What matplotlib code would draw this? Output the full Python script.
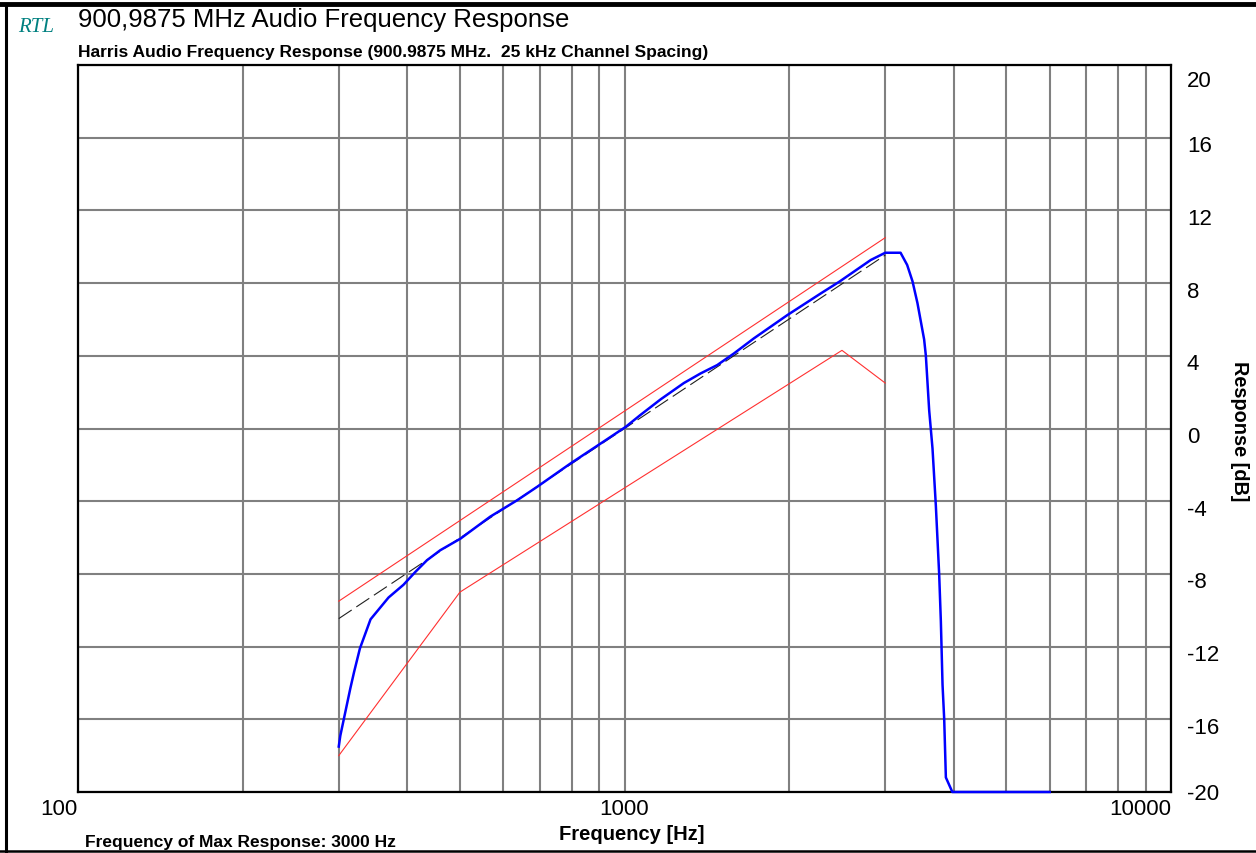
import matplotlib
matplotlib.use("Agg")
import matplotlib.pyplot as plt
from matplotlib import transforms
from matplotlib.lines import Line2D

# measured audio response (Hz, dB)
freq_hz = [300, 302, 315, 320, 328, 343, 370, 394, 414, 435, 460, 501, 568, 636,
           692, 796, 904, 1005, 1070, 1164, 1284, 1378, 1478, 1586, 1725, 1851,
           1986, 2286, 2473, 2822, 3000, 3200, 3290, 3365, 3436, 3534, 3560, 3610,
           3661, 3713, 3765, 3792, 3819, 3846, 3873, 3980, 6000]
response_db = [-17.5, -16.9, -14.3, -13.4, -12.1, -10.5, -9.3, -8.6, -7.9, -7.25,
               -6.7, -6.06, -4.85, -3.95, -3.21, -1.93, -0.83, 0.09, 0.75, 1.6,
               2.5, 3.03, 3.49, 4.13, 4.96, 5.6, 6.24, 7.43, 8.08, 9.27, 9.67,
               9.67, 9.0, 8.1, 6.9, 4.9, 4.0, 1.0, -1.1, -4.25, -8.0, -10.6, -14.1,
               -16.0, -19.2, -20.0, -20.0]

# limit lines and ideal 6 dB/octave pre-emphasis
upper_hz = [300, 3000]
upper_db = [-9.5, 10.5]
lower_hz = [300, 500, 2500, 3000]
lower_db = [-18.0, -9.0, 4.3, 2.5]
ideal_hz = [300, 3000]
ideal_db = [-10.46, 9.54]

y_ticks = [20, 16, 12, 8, 4, 0, -4, -8, -12, -16, -20]
x_major = [100, 1000, 10000]
x_minor = [200, 300, 400, 500, 600, 700, 800, 900,
           2000, 3000, 4000, 5000, 6000, 7000, 8000, 9000]

W, H = 1256, 854
fig = plt.figure(figsize=(W / 100, H / 100), dpi=100)
ax = fig.add_axes([78 / W, 1 - 793 / H, (1171 - 78) / W, (793 - 66) / H])

ax.set_xscale("log")
ax.set_xlim(100, 10000)
ax.set_ylim(-20, 20)
ax.set_xticks(x_major)
ax.set_xticks(x_minor, minor=True)
ax.set_yticks(y_ticks)
ax.tick_params(which="both", length=0, labelbottom=False, labelleft=False)
ax.grid(which="both", color="#808080", linewidth=1.5)
ax.set_axisbelow(True)
for s in ax.spines.values():
    s.set_linewidth(1.6)
    s.set_color("black")

ax.plot(upper_hz, upper_db, color="#ff3030", linewidth=0.8)
ax.plot(lower_hz, lower_db, color="#ff3030", linewidth=0.8)
ax.plot(ideal_hz, ideal_db, color="#202020", linewidth=0.8, dashes=(14, 5))
ax.plot(freq_hz, response_db, color="#0000ff", linewidth=1.8, clip_on=False, zorder=5)

sans = "Liberation Sans"

# tick labels
px = fig.dpi_scale_trans
ytr = transforms.blended_transform_factory(ax.transAxes, ax.transData)
for v in y_ticks:
    off = 8
    if v == 20:
        off = 15
    elif v == -20:
        off = 1
    ax.text(1.0146, v, str(v), transform=ytr + transforms.ScaledTranslation(0, -off / 100, px),
            ha="left", va="center", fontsize=16, family=sans)

xtr = transforms.blended_transform_factory(ax.transData, ax.transAxes)
for v in x_major:
    ha = "center"
    if v == 100:
        ha = "right"
    elif v == 10000:
        ha = "right"
    ax.text(v, 0, str(v), transform=xtr + transforms.ScaledTranslation(0, -17 / 100, px),
            ha=ha, va="center", fontsize=16, family=sans)

# titles and labels
fig.text(78 / W, 1 - 20 / H, "900,9875 MHz Audio Frequency Response",
         ha="left", va="center", fontsize=18.5, family=sans)
fig.text(78 / W, 1 - 52 / H, "Harris Audio Frequency Response (900.9875 MHz.  25 kHz Channel Spacing)",
         ha="left", va="center", fontsize=12.5, family=sans, fontweight="bold")
fig.text(18 / W, 1 - 28 / H, "RTL", ha="left", va="center", fontsize=15,
         family="Liberation Serif", style="italic", color="#008080")
fig.text(632 / W, 1 - 835 / H, "Frequency [Hz]", ha="center", va="center",
         fontsize=14.5, family=sans, fontweight="bold")
fig.text(1240 / W, 1 - 431 / H, "Response [dB]", ha="center", va="center",
         rotation=-90, fontsize=14.3, family=sans, fontweight="bold")
fig.text(85 / W, 1 - 843 / H, "Frequency of Max Response: 3000 Hz", ha="left",
         va="center", fontsize=12.5, family=sans, fontweight="bold")

# window frame
fig.add_artist(Line2D([0, 1], [1 - 5 / H, 1 - 5 / H], color="black", linewidth=3.5,
                      transform=fig.transFigure))
fig.add_artist(Line2D([6 / W, 6 / W], [0, 1 - 5 / H], color="black", linewidth=2.2,
                      transform=fig.transFigure))
fig.add_artist(Line2D([0, 1], [1 - 852 / H, 1 - 852 / H], color="black", linewidth=1.8,
                      transform=fig.transFigure))

fig.savefig("out.png", dpi=100)
